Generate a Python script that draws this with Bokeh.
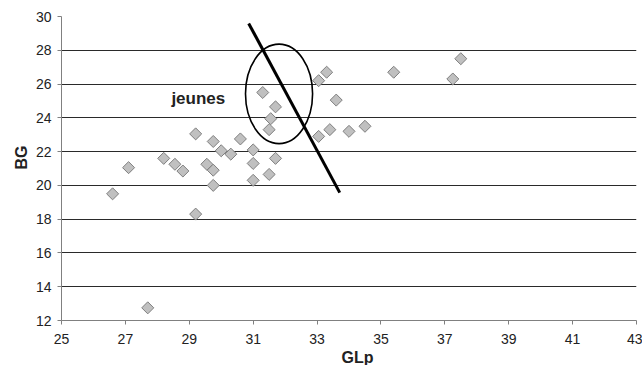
import math
from bokeh.plotting import figure
from bokeh.models import Range1d, FixedTicker, Label, ColumnDataSource, Title
from bokeh.embed import file_html
from bokeh.resources import INLINE

# Data
glp = [26.6, 27.1, 27.7, 28.2, 28.55, 28.8, 29.2, 29.2, 29.55, 29.75, 29.75, 29.75,
       30.0, 30.3, 30.6, 31.0, 31.0, 31.0, 31.5, 31.7, 31.3, 31.7, 31.55, 31.5,
       33.05, 33.3, 33.6, 33.05, 33.4, 34.0, 34.5, 35.4, 37.5, 37.25]
bg = [19.5, 21.05, 12.75, 21.6, 21.25, 20.85, 23.05, 18.3, 21.25, 20.0, 20.9, 22.6,
      22.05, 21.85, 22.75, 22.1, 21.3, 20.3, 20.65, 21.6, 25.5, 24.65, 23.95, 23.3,
      26.2, 26.7, 25.05, 22.9, 23.3, 23.2, 23.5, 26.7, 27.5, 26.3]

x_ticks = [25, 27, 29, 31, 33, 35, 37, 39, 41, 43]
y_ticks = [12, 14, 16, 18, 20, 22, 24, 26, 28, 30]

# separating line and "jeunes" ellipse (data units)
sep_x = [30.86, 33.71]
sep_y = [29.59, 19.57]
ell_x = [31.81]
ell_y = [25.42]
ell_w = [2.10]
ell_h = [5.89]

p = figure(width=642, height=365, output_backend="svg", toolbar_location=None,
           x_range=Range1d(25, 43), y_range=Range1d(12, 30),
           min_border_left=61, min_border_right=6, min_border_top=16, min_border_bottom=45)
p.outline_line_color = None
p.background_fill_color = "white"

p.xgrid.visible = False
p.ygrid.ticker = FixedTicker(ticks=y_ticks)
p.ygrid.grid_line_color = "#2a2a2a"
p.ygrid.grid_line_width = 1

for ax, ticks in ((p.xaxis[0], x_ticks), (p.yaxis[0], y_ticks)):
    ax.ticker = FixedTicker(ticks=ticks)
    ax.axis_line_color = "#808080"
    ax.major_tick_line_color = "#808080"
    ax.major_tick_in = 0
    ax.major_tick_out = 4
    ax.minor_tick_line_color = None
    ax.major_label_text_font = "Liberation Sans"
    ax.major_label_text_font_size = "14px"
    ax.major_label_text_color = "#222222"
p.xaxis[0].major_label_standoff = 9
p.yaxis[0].major_label_standoff = 6

src = ColumnDataSource(dict(x=glp, y=bg))
p.scatter("x", "y", source=src, marker="square", angle=math.pi / 4, size=8.5,
          fill_color="#C0C0C0", line_color="#7F7F7F", line_width=1)

p.line(sep_x, sep_y, line_color="black", line_width=3)
p.ellipse(x=ell_x, y=ell_y, width=ell_w, height=ell_h, fill_alpha=0,
          line_color="black", line_width=1.6)

p.add_layout(Label(x=28.44, y=25.12, text="jeunes", text_font="Liberation Sans",
                   text_font_style="bold", text_font_size="17px", text_color="#222222",
                   text_align="left", text_baseline="middle"))

p.add_layout(Title(text="GLp", align="left", offset=280, standoff=0,
                   text_font="Liberation Sans", text_font_style="bold",
                   text_font_size="16px", text_color="#222222"), "below")
p.add_layout(Title(text="BG", align="left", offset=151, standoff=6,
                   text_font="Liberation Sans", text_font_style="bold",
                   text_font_size="16px", text_color="#222222"), "left")

open("out.html", "w").write(file_html(p, INLINE))
